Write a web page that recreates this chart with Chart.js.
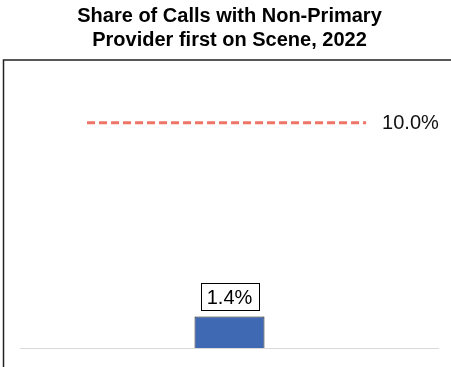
<!DOCTYPE html>
<html>
<head>
<meta charset="utf-8">
<script src="https://cdn.jsdelivr.net/npm/chart.js@4.4.0/dist/chart.umd.min.js"></script>
<style>
  html, body { margin: 0; padding: 0; background: #fff; }
  #wrap { width: 451px; height: 367px; }
</style>
</head>
<body>
<div id="wrap"><canvas id="myChart" width="451" height="367"></canvas></div>
<script>
var categories = ['2022'];
var shareValues = [1.4];
var targetValue = 10.0;
var targetSpan = [0.16, 0.826]; // where the target line starts and ends along the width

// frame round the plot, label box on bar, and target label
var decorations = {
  id: 'decorations',
  beforeDraw: function (chart) {
    var ctx = chart.ctx;
    ctx.save();
    ctx.strokeStyle = '#222';
    ctx.lineWidth = 1.5;
    ctx.strokeRect(3.5, 60, 600, 400);
    ctx.restore();
  },
  afterDatasetsDraw: function (chart) {
    var ctx = chart.ctx;
    ctx.save();
    ctx.font = '20px "Liberation Sans", Arial, sans-serif';
    ctx.textBaseline = 'middle';

    var bar = chart.getDatasetMeta(0).data[0];
    var txt = shareValues[0].toFixed(1) + '%';
    var w = 58, h = 27;
    var bx = Math.round(bar.x - w / 2) + 0.5;
    var by = Math.round(bar.y - 6 - h) + 0.5;
    ctx.fillStyle = '#fff';
    ctx.fillRect(bx, by, w, h);
    ctx.strokeStyle = '#000';
    ctx.lineWidth = 1;
    ctx.strokeRect(bx, by, w, h);
    ctx.fillStyle = '#000';
    ctx.textAlign = 'center';
    ctx.fillText(txt, bar.x, by + h / 2 + 1);

    var pts = chart.getDatasetMeta(1).data;
    var last = pts[pts.length - 1];
    ctx.fillStyle = '#111';
    ctx.textAlign = 'left';
    ctx.fillText(targetValue.toFixed(1) + '%', last.x + 16, last.y + 1);
    ctx.restore();
  }
};

new Chart(document.getElementById('myChart'), {
  type: 'bar',
  data: {
    labels: categories,
    datasets: [{
      type: 'bar',
      label: 'Share',
      data: shareValues,
      backgroundColor: '#4069B4',
      borderColor: '#1a1a1a',
      borderWidth: 1,
      barPercentage: 0.167,
      categoryPercentage: 1,
      grouped: false,
      xAxisID: 'x',
      order: 2
    }, {
      type: 'line',
      label: 'Target',
      data: [{ x: targetSpan[0], y: targetValue }, { x: targetSpan[1], y: targetValue }],
      borderColor: '#EE7466',
      borderWidth: 3,
      borderDash: [8, 4],
      borderCapStyle: 'butt',
      pointRadius: 0,
      fill: false,
      xAxisID: 'x2',
      order: 1
    }]
  },
  options: {
    responsive: false,
    animation: false,
    layout: { padding: { left: 20, right: 12, bottom: 19, top: 0 } },
    scales: {
      x: { type: 'category', display: false, offset: true },
      x2: { type: 'linear', display: false, offset: false, min: 0, max: 1 },
      y: { display: false, min: 0, max: 12.7 }
    },
    plugins: {
      legend: { display: false },
      tooltip: { enabled: false },
      title: {
        display: true,
        text: ['Share of Calls with Non-Primary', 'Provider first on Scene, 2022'],
        color: '#000',
        font: { family: '"Liberation Sans", Arial, sans-serif', size: 20, weight: 'bold', lineHeight: 1.2 },
        padding: { top: 4, bottom: 10 }
      }
    }
  },
  plugins: [decorations, {
    id: 'baseline',
    beforeDatasetsDraw: function (chart) {
      var ctx = chart.ctx, a = chart.chartArea;
      var y0 = Math.round(chart.scales.y.getPixelForValue(0)) + 0.5;
      ctx.save();
      ctx.strokeStyle = '#d9d9d9';
      ctx.lineWidth = 1;
      ctx.beginPath();
      ctx.moveTo(a.left, y0);
      ctx.lineTo(a.right, y0);
      ctx.stroke();
      ctx.restore();
    }
  }]
});
</script>
</body>
</html>
